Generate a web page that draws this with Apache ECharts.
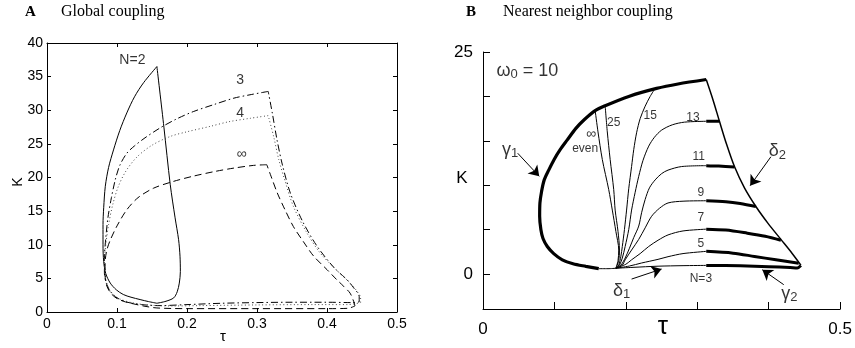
<!DOCTYPE html>
<html><head><meta charset="utf-8">
<script src="https://cdn.jsdelivr.net/npm/echarts@6/dist/echarts.min.js"></script>
<style>html,body{margin:0;padding:0;background:#fff}#c{width:855px;height:348px}</style>
</head><body><div id="c"></div>
<script>
// ---------- Panel A: Global coupling ----------
const aXTicks = [0, 0.1, 0.2, 0.3, 0.4, 0.5];
const aYTicks = [0, 5, 10, 15, 20, 25, 30, 35, 40];
// N=2 (solid)
const n2Right = [[0.157,36.5],[0.167,27.5],[0.176,19.0],[0.183,14.0],[0.188,10.75],[0.190,8.3],[0.1905,6.0],[0.189,4.3],[0.186,3.0],[0.181,2.1],[0.170,1.6],[0.157,1.3]];
const n2Left = [[0.157,1.3],[0.145,1.55],[0.133,1.85],[0.120,2.2],[0.109,2.6],[0.099,3.3],[0.0904,4.3],[0.084,5.7],[0.081,7.5],[0.080,10.0],[0.080,13.0],[0.081,15.5],[0.0833,18.7],[0.088,21.5],[0.095,24.1],[0.104,27.0],[0.114,29.6],[0.125,32.0],[0.138,34.1],[0.157,36.5]];
// N=3 (dash-dot)
const n3Upper = [[0.316,32.8],[0.290,32.3],[0.267,31.8],[0.240,30.9],[0.209,29.8],[0.185,28.7],[0.162,27.4],[0.140,25.9],[0.125,24.7],[0.114,23.6],[0.104,21.8],[0.0976,19.7],[0.092,17.0],[0.087,14.0],[0.084,11.0],[0.082,8.0],[0.082,5.8],[0.085,4.2],[0.091,3.0],[0.100,2.1],[0.115,1.45],[0.135,1.1],[0.160,0.95],[0.200,1.1],[0.250,1.3],[0.300,1.4],[0.350,1.45],[0.400,1.45],[0.435,1.4],[0.446,1.5]];
const n3Right = [[0.446,1.5],[0.446,2.3],[0.438,3.6],[0.4286,4.8],[0.410,6.6],[0.3857,9.8],[0.365,13.5],[0.3476,17.7],[0.336,22.0],[0.3286,25.6],[0.322,29.5],[0.316,32.8]];
// N=4 (dotted)
const n4Upper = [[0.316,29.2],[0.290,28.8],[0.260,28.3],[0.233,27.6],[0.200,26.8],[0.176,26.1],[0.150,24.8],[0.129,23.1],[0.113,21.0],[0.102,18.7],[0.094,16.0],[0.088,13.0],[0.084,10.0],[0.082,7.5],[0.083,5.5],[0.087,3.8],[0.094,2.7],[0.105,1.9],[0.125,1.3],[0.150,1.0],[0.180,0.9],[0.220,0.95],[0.300,1.05],[0.380,1.1],[0.430,1.1],[0.448,1.4]];
const n4Right = [[0.448,1.4],[0.448,2.1],[0.442,3.2],[0.433,4.3],[0.413,6.3],[0.390,8.8],[0.370,12.0],[0.352,15.7],[0.340,19.5],[0.331,22.7],[0.324,26.0],[0.316,29.2]];
// N=infinity (dashed)
const nInfUpper = [[0.314,21.9],[0.295,21.8],[0.267,21.4],[0.240,20.9],[0.209,20.2],[0.180,19.4],[0.152,18.4],[0.130,17.0],[0.114,15.2],[0.100,12.8],[0.090,10.6],[0.085,9.0],[0.083,7.2],[0.083,5.5],[0.0857,3.8],[0.092,2.7],[0.100,2.0],[0.112,1.5],[0.124,1.2],[0.140,0.85],[0.157,0.6],[0.200,0.5],[0.300,0.5],[0.400,0.5],[0.430,0.55],[0.440,0.9]];
const nInfRight = [[0.440,0.9],[0.438,1.6],[0.433,2.8],[0.424,3.8],[0.414,4.8],[0.400,6.3],[0.381,8.3],[0.366,10.5],[0.352,12.7],[0.340,15.2],[0.329,17.7],[0.320,20.2],[0.314,21.9]];
const aLabels = [['N=2',0.122,37.5],['3',0.276,34.5],['4',0.276,29.6],['∞',0.278,23.5]];

// ---------- Panel B: Nearest neighbor coupling ----------
const bXTicks = [0.1, 0.2, 0.3, 0.4, 0.5];
const bXLabels = [0, 0.5];
const bYTicks = [0, 5, 10, 15, 20, 25];
const bYLabels = [0, 25];
const cusp = [0.186, 0.65];
const gamma1Thick = [[0.3125,21.9],[0.273,21.4],[0.243,20.9],[0.204,20.0],[0.171,18.95],[0.157,18.4],[0.142,17.4],[0.130,16.4],[0.118,15.1],[0.108,14.0],[0.0996,12.9],[0.092,11.7],[0.0857,10.6],[0.082,9.3],[0.0797,8.0],[0.0793,6.5],[0.081,5.0],[0.084,4.0],[0.090,3.1],[0.099,2.3],[0.111,1.6],[0.126,1.15],[0.144,0.86],[0.162,0.6]];
const gamma1Thin = [[0.162,0.6],[0.175,0.6],cusp];
const delta2 = [[0.3125,21.9],[0.322,19.6],[0.331,17.2],[0.341,14.6],[0.352,12.1],[0.366,9.7],[0.382,7.6],[0.399,5.7],[0.417,3.9],[0.432,2.4],[0.445,1.0]];
const n3Thin = [cusp,[0.21,0.75],[0.245,0.88],[0.28,0.94],[0.3125,0.97]];
const n3Thick = [[0.3125,0.97],[0.36,0.92],[0.40,0.83],[0.43,0.72],[0.44,0.67],[0.445,0.95]];
const n5Thin = [cusp,[0.205,0.9],[0.222,1.24],[0.245,1.65],[0.259,1.95],[0.28,2.3],[0.3125,2.55]];
const n5Thick = [[0.3125,2.55],[0.35,2.35],[0.38,1.98],[0.41,1.6],[0.442,1.2]];
const n7Thin = [cusp,[0.200,1.1],[0.208,1.6],[0.220,2.3],[0.232,3.1],[0.245,3.8],[0.259,4.4],[0.28,4.85],[0.3125,5.05]];
const n7Thick = [[0.3125,5.05],[0.34,4.95],[0.37,4.6],[0.395,4.25],[0.417,3.8]];
const n9Thin = [cusp,[0.195,1.0],[0.199,1.6],[0.208,2.7],[0.218,3.9],[0.227,5.2],[0.236,6.5],[0.247,7.4],[0.259,8.0],[0.28,8.2],[0.3125,8.25]];
const n9Thick = [[0.3125,8.25],[0.34,8.15],[0.36,7.95],[0.382,7.6]];
const n11Thin = [cusp,[0.193,1.0],[0.199,1.8],[0.205,2.9],[0.211,4.1],[0.218,5.4],[0.222,6.9],[0.227,8.4],[0.233,9.7],[0.241,10.6],[0.250,11.3],[0.259,11.7],[0.278,12.1],[0.3125,12.2]];
const n11Thick = [[0.3125,12.2],[0.33,12.15],[0.352,12.05]];
const n13Thin = [cusp,[0.191,1.0],[0.195,1.8],[0.199,3.1],[0.204,5.0],[0.208,7.2],[0.213,9.2],[0.218,11.0],[0.224,12.8],[0.232,14.4],[0.240,15.4],[0.250,16.2],[0.265,16.8],[0.282,17.1],[0.3125,17.2]];
const n13Thick = [[0.3125,17.2],[0.331,17.2]];
const n15 = [cusp,[0.190,1.0],[0.193,2.0],[0.195,3.1],[0.198,5.0],[0.201,7.2],[0.204,9.6],[0.208,12.1],[0.211,14.0],[0.215,15.9],[0.220,17.5],[0.227,18.9],[0.234,20.0],[0.241,20.9]];
const n25 = [cusp,[0.190,1.5],[0.191,2.7],[0.189,4.8],[0.185,7.2],[0.183,9.5],[0.178,12.9],[0.174,16.0],[0.171,18.95]];
const nInfEven = [cusp,[0.189,1.5],[0.190,2.7],[0.186,4.8],[0.181,7.2],[0.176,9.5],[0.167,12.9],[0.161,16.0],[0.157,18.4]];
const bLabels = [['N=3',0.305,-0.53],['5',0.305,3.4],['7',0.305,6.3],['9',0.305,9.2],['11',0.302,13.2],['13',0.294,17.6],['15',0.234,17.8],['25',0.183,17.0],['∞',0.151,15.7],['even',0.143,14.1]];
const bGreek = [['{g|γ}{s|1}',0.0380,14.0],['{g|δ}{s|2}',0.412,13.8],['{g|δ}{s|1}',0.194,-1.9],['{g|γ}{s|2}',0.429,-2.2],['{g|ω}{s|0}{g| = 10}',0.062,22.9]];
const bArrows = [[0.0486,13.6,0.0787,11.0],[0.403,13.2,0.374,9.95],[0.208,-0.57,0.25,0.56],[0.421,-1.2,0.391,0.48]];

const SANS = 'Liberation Sans, Arial, sans-serif';
const SERIF = 'Liberation Serif, Times New Roman, serif';

function ln(data, xi, yi, width, type, color) {
  return {type:'line', xAxisIndex:xi, yAxisIndex:yi, data:data, symbol:'none', showSymbol:false,
    smooth:0.3, silent:true, animation:false, z:3,
    lineStyle:{width:width, type:type||'solid', color:color||'#000'}};
}

const delta2Series = ln(delta2,2,2,1.5);
delta2Series.itemStyle = {color:'#000'};
delta2Series.markLine = {silent:true, symbol:['none','arrow'], symbolSize:[0,10], animation:false,
  itemStyle:{color:'#000'}, lineStyle:{color:'#000', width:1, type:'solid'}, label:{show:false},
  data: bArrows.map(a=>[{coord:[a[0],a[1]], symbol:'none'},{coord:[a[2],a[3]], symbol:'arrow', symbolSize:10, itemStyle:{color:'#000'}}])};

const series = [
  ln(n2Right,0,0,1,'solid'), ln(n2Left,0,0,1,'solid'),
  ln(n3Upper,0,0,1,[7,3,1.5,3]), ln(n3Right,0,0,1,[7,3,1.5,3]),
  ln(n4Upper,0,0,1,[1,2.5],'#444'), ln(n4Right,0,0,1,[1,2.5],'#444'),
  ln(nInfUpper,0,0,1,[7,4]), ln(nInfRight,0,0,1,[7,4]),
  ln(gamma1Thick,2,2,3.2), ln(gamma1Thin,2,2,1),
  delta2Series,
  ln(n3Thin,2,2,1), ln(n3Thick,2,2,3),
  ln(n5Thin,2,2,1), ln(n5Thick,2,2,3),
  ln(n7Thin,2,2,1), ln(n7Thick,2,2,3),
  ln(n9Thin,2,2,1), ln(n9Thick,2,2,3),
  ln(n11Thin,2,2,1), ln(n11Thick,2,2,3),
  ln(n13Thin,2,2,1), ln(n13Thick,2,2,3),
  ln(n15,2,2,1), ln(n25,2,2,1), ln(nInfEven,2,2,1),
  {type:'scatter', xAxisIndex:0, yAxisIndex:0, symbolSize:0, silent:true, animation:false,
   data: aLabels.map(l=>({value:[l[1],l[2]], label:{show:true, position:'inside', formatter:l[0], color:'#000', fontSize:14, fontFamily:SANS}}))},
  {type:'scatter', xAxisIndex:2, yAxisIndex:2, symbolSize:0, silent:true, animation:false,
   data: bLabels.map(l=>({value:[l[1],l[2]], label:{show:true, position:'inside', formatter:l[0], color:'#000', fontSize:(l[0]==='∞'?14:12), fontFamily:SANS}}))},
  {type:'scatter', xAxisIndex:2, yAxisIndex:2, symbolSize:0, silent:true, animation:false,
   data: bGreek.map(l=>({value:[l[1],l[2]], label:{show:true, position:'inside', formatter:l[0], color:'#000',
     rich:{g:{fontSize:18, fontFamily:SANS, lineHeight:20, color:'#000'}, s:{fontSize:13, fontFamily:SANS, lineHeight:12, verticalAlign:'bottom', color:'#000'}}}}))}
];

function tk(len){ return {show:true, inside:true, length:len, lineStyle:{color:'#000', width:1}}; }
function al(){ return {show:true, onZero:false, lineStyle:{color:'#000', width:1}}; }

const option = {
  animation:false,
  grid:[
    {left:47, top:43, width:350, height:269, show:false},
    {left:483, top:52, width:360, height:257, show:false}
  ],
  xAxis:[
    {type:'value', gridIndex:0, min:0, max:0.5, interval:0.1, position:'bottom', axisLine:al(), axisTick:tk(4), splitLine:{show:false},
     axisLabel:{fontSize:14, fontFamily:SANS, color:'#000', margin:5, formatter:v=>String(+v.toFixed(1))}},
    {type:'value', gridIndex:0, min:0, max:0.5, interval:0.1, position:'top', axisLine:al(), axisTick:tk(4), splitLine:{show:false}, axisLabel:{show:false}},
    {type:'value', gridIndex:1, min:0, max:0.5, position:'bottom', axisLine:al(), splitLine:{show:false},
     axisTick:Object.assign(tk(7), {customValues:bXTicks}),
     axisLabel:{fontSize:17, fontFamily:SANS, color:'#000', margin:12, customValues:bXLabels, formatter:v=>String(v)}}
  ],
  yAxis:[
    {type:'value', gridIndex:0, min:0, max:40, interval:5, position:'left', axisLine:al(), axisTick:tk(4), splitLine:{show:false},
     axisLabel:{fontSize:14, fontFamily:SANS, color:'#000', margin:4}},
    {type:'value', gridIndex:0, min:0, max:40, interval:5, position:'right', axisLine:al(), axisTick:tk(4), splitLine:{show:false}, axisLabel:{show:false}},
    {type:'value', gridIndex:1, min:-3.94, max:25, position:'left', axisLine:al(), splitLine:{show:false},
     axisTick:Object.assign(tk(7), {customValues:bYTicks}),
     axisLabel:{fontSize:17, fontFamily:SANS, color:'#000', margin:10, customValues:bYLabels, formatter:v=>String(v)}}
  ],
  graphic:[
    {type:'text', left:25, top:5, style:{text:'A', font:'bold 15px '+SERIF, fill:'#000'}},
    {type:'text', left:61, top:4, style:{text:'Global coupling', font:'16px '+SERIF, fill:'#000'}},
    {type:'text', left:466, top:5, style:{text:'B', font:'bold 15px '+SERIF, fill:'#000'}},
    {type:'text', left:503, top:4, style:{text:'Nearest neighbor coupling', font:'16px '+SERIF, fill:'#000'}},
    {type:'text', x:18, y:182, rotation:Math.PI/2, style:{text:'K', font:'14px '+SANS, fill:'#000', align:'center', verticalAlign:'middle'}},
    {type:'text', x:223, y:337, style:{text:'τ', font:'15px '+SANS, fill:'#000', align:'center', verticalAlign:'middle'}},
    {type:'text', x:462, y:178, style:{text:'K', font:'17px '+SANS, fill:'#000', align:'center', verticalAlign:'middle'}},
    {type:'text', x:663, y:327, style:{text:'τ', font:'26px '+SANS, fill:'#000', align:'center', verticalAlign:'middle'}}
  ],
  series:series
};
const chart = echarts.init(document.getElementById('c'), null, {renderer:'canvas'});
chart.setOption(option);
</script></body></html>
